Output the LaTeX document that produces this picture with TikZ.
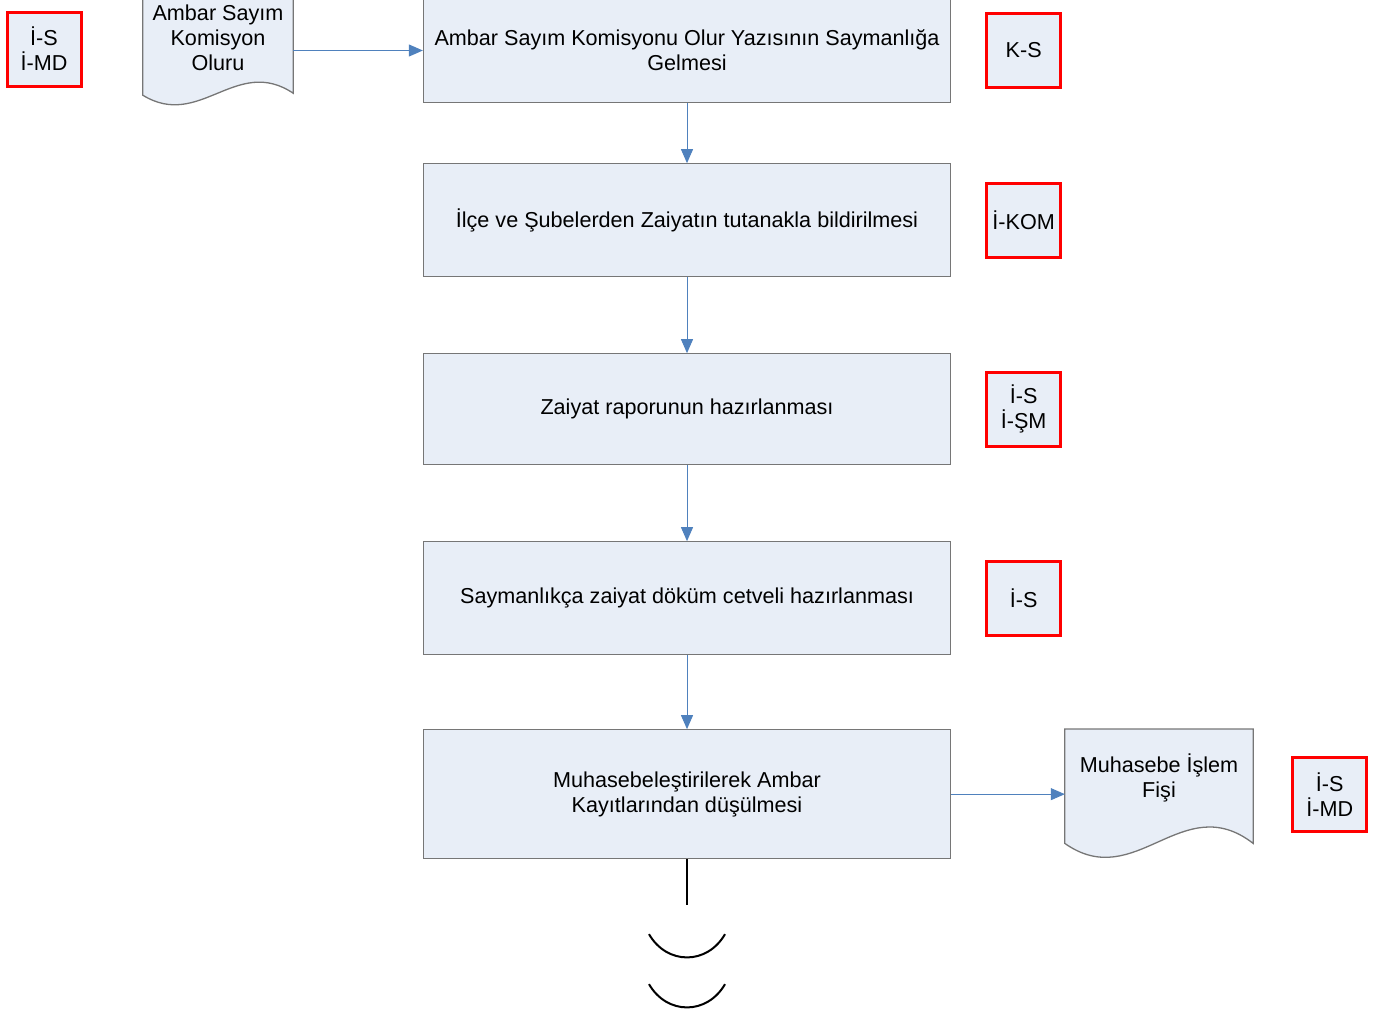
\documentclass[tikz,border=0pt]{standalone}
\usepackage{fontspec}
\setmainfont{Liberation Sans}
\usetikzlibrary{
  arrows.meta,
  positioning,
}
\definecolor{boxfill}{RGB}{232,238,247}
\definecolor{boxline}{RGB}{118,118,118}
\definecolor{flowblue}{RGB}{79,129,189}

\begin{document}
\begin{tikzpicture}[
    every node/.style={font=\fontsize{21.6}{25}\selectfont, align=center},
    procbox/.style={draw=boxline, fill=boxfill, line width=1.3pt, minimum width=527pt},
    rolebox/.style={draw=red, fill=boxfill, line width=3pt, minimum size=74pt, inner sep=0pt},
    docline/.style={draw=boxline, fill=boxfill, line width=1.3pt},
    flow/.style={draw=flowblue, line width=1pt, -{Triangle[length=14pt, width=12pt]}},
    cut/.style={draw=black, line width=2pt},
  ]
    \useasboundingbox (0,0) rectangle (1383pt,-1013pt);
    \clip (0,0) rectangle (1383pt,-1013pt);

    \node [procbox, minimum height=104pt] (B1) at (687pt,-50.5pt)
      {Ambar Sayım Komisyonu Olur Yazısının Saymanlığa\\Gelmesi};
    \node [procbox, minimum height=112.7pt, below=60pt of B1] (B2)
      {İlçe ve Şubelerden Zaiyatın tutanakla bildirilmesi};
    \node [procbox, minimum height=110.7pt, below=76pt of B2] (B3)
      {Zaiyat raporunun hazırlanması};
    \node [procbox, minimum height=112.7pt, below=76pt of B3] (B4)
      {Saymanlıkça zaiyat döküm cetveli hazırlanması};
    \node [procbox, minimum height=128.7pt, below=74pt of B4] (B5)
      {Muhasebeleştirilerek Ambar\\Kayıtlarından düşülmesi};

    \node [rolebox, right=34pt of B1] (R1) {K-S};
    \node [rolebox, right=34pt of B2] (R2) {İ-KOM};
    \node [rolebox, right=34pt of B3] (R3) {İ-S\\İ-ŞM};
    \node [rolebox, right=34pt of B4] (R4) {İ-S};
    \node [rolebox] (R0) at (44pt,-49pt) {İ-S\\İ-MD};

    \node [minimum width=150pt, minimum height=80pt, inner sep=0pt] (Amb) at (218pt,-38pt) {};
    \draw [docline] (Amb.north west) -- ([yshift=-17pt]Amb.south west)
      .. controls +(57pt,-35pt) and +(-57pt,38pt) .. ([yshift=-15pt]Amb.south east)
      -- (Amb.north east) -- cycle;
    \node at (Amb) {Ambar Sayım\\Komisyon\\Oluru};

    \node [minimum width=188pt, minimum height=97pt, inner sep=0pt, anchor=north] (Fis) at (1159pt,-729pt) {};
    \draw [docline] (Fis.north west) -- ([yshift=-17pt]Fis.south west)
      .. controls +(71pt,-50pt) and +(-71pt,55pt) .. ([yshift=-17pt]Fis.south east)
      -- (Fis.north east) -- cycle;
    \node at (Fis) {Muhasebe İşlem\\Fişi};
    \node [rolebox, right=38pt of Fis.east |- B5.east, anchor=west] (R5) {İ-S\\İ-MD};

    \draw [flow] (Amb.east |- B1.west) -- (B1.west);
    \draw [flow] (B1) -- (B2);
    \draw [flow] (B2) -- (B3);
    \draw [flow] (B3) -- (B4);
    \draw [flow] (B4) -- (B5);
    \draw [flow] (B5.east) -- (B5.east -| Fis.west);

    \coordinate [below=46pt of B5.south] (E);
    \draw [cut] (B5.south) -- (E);
    \draw [cut] ([xshift=-38pt, yshift=-29pt]E) .. controls +(18pt,-31pt) and +(-18pt,-31pt) .. ([xshift=38pt, yshift=-29pt]E);
    \draw [cut] ([xshift=-38pt, yshift=-79pt]E) .. controls +(18pt,-31pt) and +(-18pt,-31pt) .. ([xshift=38pt, yshift=-79pt]E);
  \end{tikzpicture}
\end{document}
